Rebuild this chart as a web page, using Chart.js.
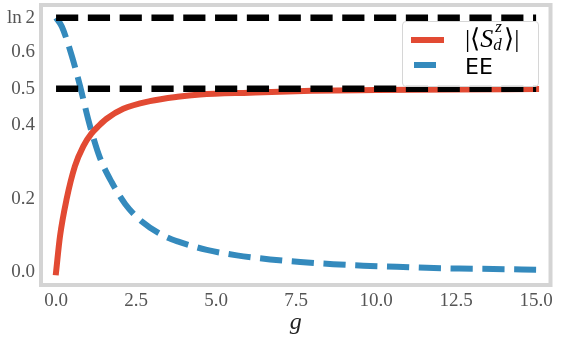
<!DOCTYPE html>
<html><head><meta charset="utf-8">
<script src="https://cdn.jsdelivr.net/npm/chart.js@4"></script>
<style>
html,body{margin:0;padding:0;background:#fff;}
#wrap{position:relative;width:561px;height:340px;}
#legend{position:absolute;left:402px;top:21px;width:137px;height:66px;border:1px solid #d6d6d6;border-radius:4px;background:rgba(255,255,255,0.8);box-sizing:border-box;}
.swatch{position:absolute;height:6px;}
.lab{position:absolute;white-space:nowrap;line-height:1;color:#000;}
.math{font-family:'Liberation Serif',serif;font-size:26px;}
.math i{font-style:italic;}
.scr{display:inline-block;position:relative;width:11px;height:0;}
.sup{position:absolute;left:2px;bottom:12px;font-size:17px;line-height:1;font-style:italic;}
.sub{position:absolute;left:0;top:-11px;font-size:17px;line-height:1;font-style:italic;}
.sans{font-family:'DejaVu Sans',sans-serif;font-size:22px;}
</style></head>
<body><div id="wrap"><canvas id="c" width="561" height="340"></canvas><div id="legend"></div></div>
<script>
const LN2 = Math.LN2;
// |<S_d^z>| series
const gS = [0, 0.125, 0.33, 0.59, 0.85, 1.11, 1.35, 1.58, 2.1, 2.93, 3.8, 4.5, 6.05, 8, 10, 12.5, 15];
const sVals = [0, 0.099, 0.199, 0.289, 0.343, 0.378, 0.400, 0.418, 0.445, 0.466, 0.478, 0.484, 0.489, 0.494, 0.496, 0.498, 0.499];
// EE series
const gEE = [0, 0.18, 0.49, 0.75, 1.0, 1.11, 1.375, 1.74, 2.16, 2.68, 3.35, 3.8, 4.71, 5.65, 6.69, 7.63, 8.66, 9.6, 10.65, 11.58, 12.6, 13.66, 15];
const eeVals = [0.693, 0.669, 0.59, 0.507, 0.418, 0.383, 0.311, 0.245, 0.186, 0.138, 0.100, 0.084, 0.061, 0.046, 0.035, 0.028, 0.022, 0.018, 0.015, 0.012, 0.010, 0.009, 0.007];
// reference lines
const refLevels = [LN2, 0.5];
const refRange = [0, 15];
// ticks
const xTicks = [0, 2.5, 5, 7.5, 10, 12.5, 15];
const yTicks = [0, 0.2, 0.4, 0.5, 0.6, LN2];
const yTickLabels = ['0.0', '0.2', '0.4', '0.5', '0.6', 'ln\u20092'];

const RED = '#E24A33', BLUE = '#348ABD';
const DASH = [22.2, 9.6];
const pts = (xs, ys) => xs.map((x, i) => ({x: x, y: ys[i]}));

const datasets = [];
refLevels.forEach(v => datasets.push({
  label: 'ref', data: refRange.map(x => ({x: x, y: v})),
  borderColor: '#000', borderWidth: 6.5, borderDash: DASH, borderCapStyle: 'butt',
  pointRadius: 0, fill: false, inLegend: false
}));
datasets.push({
  label: 'S', data: pts(gS, sVals), borderColor: RED, borderWidth: 6,
  borderCapStyle: 'square', pointRadius: 0, cubicInterpolationMode: 'monotone', fill: false, inLegend: true
});
datasets.push({
  label: 'EE', data: pts(gEE, eeVals), borderColor: BLUE, borderWidth: 6, borderDash: DASH,
  borderCapStyle: 'butt', pointRadius: 0, cubicInterpolationMode: 'monotone', fill: false, inLegend: true
});

const framePlugin = {
  id: 'frame',
  afterDraw(chart) {
    const a = chart.chartArea, ctx = chart.ctx;
    ctx.save();
    ctx.strokeStyle = '#d4d4d4';
    ctx.lineWidth = 4;
    ctx.strokeRect(a.left, a.top, a.right - a.left, a.bottom - a.top);
    ctx.restore();
  }
};

const tickFont = {family: "'Liberation Serif', serif", size: 19};
const noPad = s => { s.paddingTop = 0; s.paddingBottom = 0; s.paddingLeft = 0; s.paddingRight = 0; };

const chart = new Chart(document.getElementById('c'), {
  type: 'line',
  data: {datasets: datasets},
  options: {
    responsive: false, animation: false, devicePixelRatio: 1,
    layout: {padding: {left: 0, right: 10.5, top: 5, bottom: 0}},
    plugins: {legend: {display: false}, tooltip: {enabled: false}},
    scales: {
      x: {
        type: 'linear', min: -0.47, max: 15.45,
        grid: {display: false, drawTicks: false}, border: {display: false},
        afterBuildTicks: s => { s.ticks = xTicks.map(v => ({value: v})); },
        afterFit: s => { s.height = 55; noPad(s); },
        ticks: {padding: 5, color: '#555', font: tickFont, callback: v => v.toFixed(1), maxRotation: 0, autoSkip: false},
        title: {display: true, text: 'g', color: '#222', font: {family: "'Liberation Serif', serif", size: 24, style: 'italic'}, padding: {top: 0, bottom: 3}}
      },
      y: {
        type: 'linear', min: -0.0347, max: 0.7278,
        grid: {display: false, drawTicks: false}, border: {display: false},
        afterBuildTicks: s => { s.ticks = yTicks.map(v => ({value: v})); },
        afterFit: s => { s.width = 41; noPad(s); },
        ticks: {padding: 6, color: '#555', font: tickFont, autoSkip: false,
          callback: (v, i) => yTickLabels[i]}
      }
    }
  },
  plugins: [framePlugin]
});

// HTML legend built from the datasets
const legendTexts = {
  S: '<span class="lab math" style="left:62px;top:4px">|⟨<i>S</i><span class="scr"><span class="sup">z</span><span class="sub">d</span></span>⟩|</span>',
  EE: '<span class="lab sans" style="left:62px;top:33.5px">EE</span>'
};
const lg = document.getElementById('legend');
let html = '', row = 0;
datasets.filter(d => d.inLegend).forEach(d => {
  const top = row === 0 ? 15 : 40;
  if (d.borderDash) html += `<div class="swatch" style="left:11px;top:${top}px;width:${DASH[0]}px;background:${d.borderColor}"></div>`;
  else html += `<div class="swatch" style="left:8px;top:${top}px;width:33px;background:${d.borderColor}"></div>`;
  html += legendTexts[d.label];
  row++;
});
lg.innerHTML = html;
</script>
</body></html>
